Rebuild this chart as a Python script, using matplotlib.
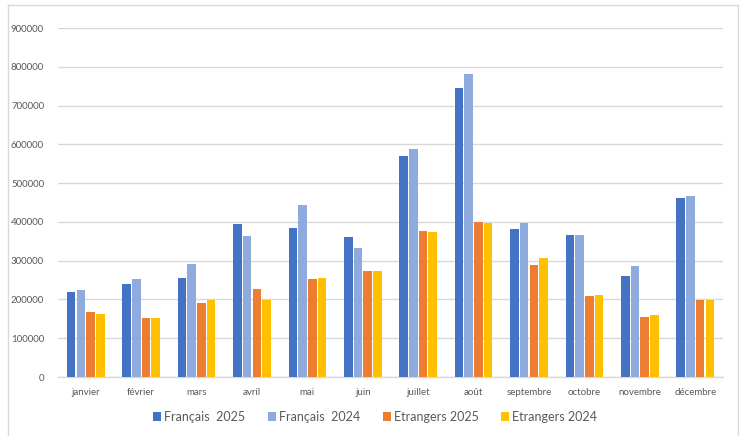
import matplotlib
matplotlib.use("Agg")
import matplotlib.pyplot as plt
import numpy as np
from matplotlib.lines import Line2D

months = ["janvier", "février", "mars", "avril", "mai", "juin", "juillet",
          "août", "septembre", "octobre", "novembre", "décembre"]
francais_2025 = [218000, 240000, 255000, 394000, 385000, 360000, 570000,
                 744000, 381000, 366000, 261000, 462000]
francais_2024 = [224000, 252000, 292000, 363000, 443000, 332000, 589000,
                 781000, 398000, 366000, 286000, 468000]
etrangers_2025 = [168000, 153000, 190000, 227000, 252000, 273000, 376000,
                  401000, 289000, 209000, 156000, 199000]
etrangers_2024 = [162000, 153000, 199000, 199000, 255000, 273000, 373000,
                  397000, 307000, 211000, 160000, 199000]
series_names = ["Français  2025", "Français  2024", "Etrangers 2025", "Etrangers 2024"]
yticks = [0, 100000, 200000, 300000, 400000, 500000, 600000, 700000, 800000, 900000]

colors = ["#4472C4", "#8FAADC", "#ED7D31", "#FFC000"]

plt.rcParams['font.family'] = ['Lato', 'DejaVu Sans']

fig = plt.figure(figsize=(7.45, 4.36), dpi=100)
ax = fig.add_axes([58/745, 1-377/436, (723-58)/745, (377-28)/436])

x = np.arange(len(months))
slot = 0.175
bw = 0.155
series = [francais_2025, francais_2024, etrangers_2025, etrangers_2024]
for i, (vals, c, name) in enumerate(zip(series, colors, series_names)):
    ax.bar(x + (i - 1.5) * slot, vals, width=bw, color=c, label=name, zorder=3)

ax.set_xlim(-0.5, len(months) - 0.5)
ax.set_ylim(0, 900000)
ax.set_yticks(yticks)
ax.set_yticklabels([str(v) for v in yticks])
ax.set_xticks(x)
ax.set_xticklabels(months)
ax.tick_params(axis='both', length=0, labelsize=7, colors="#595959")
ax.tick_params(axis='y', pad=10)
ax.tick_params(axis='x', pad=8)
ax.grid(axis='y', color="#D9D9D9", linewidth=1, zorder=0)
for s in ["top", "right", "left"]:
    ax.spines[s].set_visible(False)
ax.spines["bottom"].set_color("#D9D9D9")
ax.spines["bottom"].set_linewidth(1)

handles, labels = ax.get_legend_handles_labels()
fig.legend(handles, labels, loc="center", bbox_to_anchor=(375/745, 19/436), ncol=4,
           frameon=False, fontsize=9, handlelength=0.64, handleheight=0.64,
           handletextpad=0.25, columnspacing=1.8, labelcolor="#595959")

# chart border
bc = "#D9D9D9"
fig.add_artist(Line2D([8/745, 8/745], [0, 1-5/436], transform=fig.transFigure, color=bc, lw=1))
fig.add_artist(Line2D([8/745, 738/745], [1-5/436, 1-5/436], transform=fig.transFigure, color=bc, lw=1))
fig.add_artist(Line2D([738/745, 738/745], [0, 1-5/436], transform=fig.transFigure, color=bc, lw=1))

fig.savefig("out.png", dpi=100)
